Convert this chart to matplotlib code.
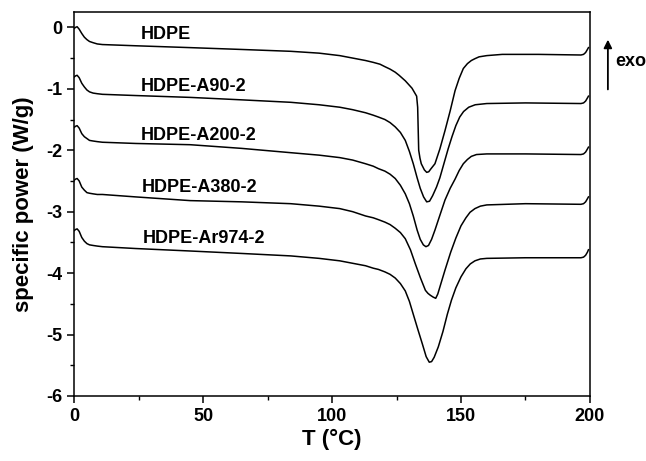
import numpy as np
import matplotlib
matplotlib.use("Agg")
import matplotlib.pyplot as plt
from matplotlib.ticker import MultipleLocator

plt.rcParams['font.family'] = ['Liberation Sans', 'DejaVu Sans']
plt.rcParams['font.weight'] = 'bold'
plt.rcParams['axes.unicode_minus'] = False

# DSC traces: temperature (degC) and specific power (W/g)
t_hdpe = [0, 0.6, 1.2, 2, 3, 4, 5, 6, 7.4, 9, 11, 24, 45, 65, 84, 95, 103, 108, 113, 116,
          118.6, 120.5, 122.5, 124.5, 126, 128.4, 131, 132.8, 133.2, 133.6, 134.1, 134.6,
          135.8, 136.7, 137.5, 138.2, 139.9, 141.8, 143.8, 145.8, 147.7, 149.3, 150.9,
          152.5, 154, 155.4, 157, 160, 166, 180, 196.5, 197.5, 198.3, 199, 199.4]
p_hdpe = [-0.02, 0.0, 0.01, -0.03, -0.1, -0.16, -0.2, -0.23, -0.25, -0.27, -0.28, -0.3,
          -0.33, -0.36, -0.39, -0.42, -0.46, -0.5, -0.54, -0.57, -0.6, -0.64, -0.68, -0.73,
          -0.78, -0.87, -0.99, -1.12, -1.3, -2.0, -2.13, -2.22, -2.32, -2.36, -2.35, -2.31,
          -2.22, -1.98, -1.68, -1.36, -1.03, -0.83, -0.67, -0.59, -0.54, -0.51, -0.48,
          -0.46, -0.44, -0.44, -0.45, -0.44, -0.41, -0.36, -0.33]

t_a90 = [0, 0.6, 1.2, 2, 3, 4, 5, 6, 7.4, 9, 11, 24, 45, 65, 84, 95, 103, 108, 113, 116,
         118, 120.5, 122.5, 124.5, 126.5, 128.4, 130, 131.5, 133, 134.2, 135.5, 136.7,
         137.8, 139, 140.5, 141.8, 143.5, 145, 146.5, 148, 149.5, 151, 153, 155.5, 160,
         175, 196.5, 197.5, 198.3, 199, 199.4]
p_a90 = [-0.81, -0.79, -0.78, -0.82, -0.91, -0.97, -1.02, -1.05, -1.07, -1.08, -1.09,
         -1.11, -1.14, -1.18, -1.22, -1.26, -1.30, -1.34, -1.39, -1.43, -1.46, -1.5, -1.55,
         -1.62, -1.71, -1.84, -2.02, -2.22, -2.45, -2.62, -2.76, -2.84, -2.83, -2.74, -2.6,
         -2.45, -2.2, -1.98, -1.78, -1.6, -1.46, -1.37, -1.3, -1.26, -1.24, -1.23, -1.24,
         -1.23, -1.2, -1.15, -1.12]

t_a200 = [0, 0.6, 1.2, 2, 3, 4, 5, 6, 7.4, 9, 11, 24, 45, 65, 84, 95, 103, 108, 113, 116,
          118, 120.5, 122.5, 124.5, 126.5, 128.4, 130, 131.5, 133, 134.2, 135.4, 136.4,
          137.4, 138.6, 139.9, 141.8, 143.8, 145.8, 147.7, 149.3, 150.9, 152.5, 154, 156,
          160, 175, 196.5, 197.5, 198.3, 199, 199.4]
p_a200 = [-1.63, -1.61, -1.6, -1.64, -1.73, -1.78, -1.81, -1.84, -1.85, -1.86, -1.87,
          -1.89, -1.91, -1.97, -2.04, -2.08, -2.12, -2.16, -2.22, -2.26, -2.3, -2.34, -2.39,
          -2.46, -2.57, -2.71, -2.87, -3.07, -3.3, -3.45, -3.54, -3.57, -3.55, -3.45, -3.3,
          -3.06, -2.81, -2.62, -2.47, -2.33, -2.22, -2.15, -2.1, -2.07, -2.06, -2.06, -2.07,
          -2.06, -2.03, -1.98, -1.95]

t_a380 = [0, 0.6, 1.2, 2, 3, 4, 5, 6, 7.4, 9, 11, 24, 45, 65, 84, 95, 103, 108, 113, 116,
          118, 120.5, 122.5, 124.5, 126.5, 128.4, 130.4, 132.3, 134.3, 136.2, 137.2, 138.1,
          139.2, 140.2, 141, 142, 143.8, 146, 148, 150, 151.9, 153.5, 155.4, 157.5, 160,
          175, 196.5, 197.5, 198.3, 199, 199.4]
p_a380 = [-2.49, -2.47, -2.46, -2.5, -2.6, -2.65, -2.69, -2.7, -2.71, -2.72, -2.72, -2.76,
          -2.82, -2.84, -2.87, -2.91, -2.95, -3.0, -3.07, -3.1, -3.13, -3.17, -3.21, -3.27,
          -3.34, -3.44, -3.62, -3.85, -4.08, -4.28, -4.33, -4.36, -4.39, -4.41, -4.34, -4.2,
          -3.95, -3.66, -3.43, -3.23, -3.1, -3.01, -2.95, -2.91, -2.89, -2.87, -2.88, -2.87,
          -2.84, -2.79, -2.76]

t_ar974 = [0, 0.6, 1.2, 2, 3, 4, 5, 6, 7.4, 9, 11, 24, 45, 65, 84, 95, 103, 108, 113, 116,
           118, 120.5, 122.5, 124.5, 126.5, 128.4, 130, 131.5, 133.3, 135, 136.5, 137.7,
           138.6, 139.6, 141.2, 143, 144.7, 146.3, 148, 150, 151.9, 153.6, 155.4, 157.5, 160,
           175, 196.5, 197.5, 198.3, 199, 199.4]
p_ar974 = [-3.31, -3.29, -3.28, -3.32, -3.42, -3.48, -3.52, -3.54, -3.55, -3.56, -3.57,
           -3.6, -3.64, -3.68, -3.72, -3.76, -3.8, -3.84, -3.88, -3.92, -3.94, -3.98, -4.02,
           -4.08, -4.17, -4.29, -4.46, -4.67, -4.92, -5.15, -5.36, -5.45, -5.44, -5.37, -5.2,
           -4.95, -4.67, -4.44, -4.24, -4.06, -3.93, -3.85, -3.8, -3.77, -3.76, -3.75, -3.75,
           -3.74, -3.71, -3.66, -3.62]

names = ["HDPE", "HDPE-A90-2", "HDPE-A200-2", "HDPE-A380-2", "HDPE-Ar974-2"]
label_t = [25.8, 25.8, 25.8, 26.2, 26.6]
label_p = [-0.11, -0.96, -1.76, -2.61, -3.43]

fig = plt.figure(figsize=(6.46, 4.61), dpi=100)
ax = fig.add_axes([0.1146, 0.141, 0.7987, 0.833])

for t, p in [(t_hdpe, p_hdpe), (t_a90, p_a90), (t_a200, p_a200),
             (t_a380, p_a380), (t_ar974, p_ar974)]:
    ax.plot(t, p, color='black', lw=1.1)

for name, x, y in zip(names, label_t, label_p):
    ax.text(x, y, name, fontsize=13, fontweight='bold', ha='left', va='center')

ax.set_xlim(0, 200)
ax.set_ylim(-6, 0.25)
ax.xaxis.set_major_locator(MultipleLocator(50))
ax.xaxis.set_minor_locator(MultipleLocator(25))
ax.yaxis.set_major_locator(MultipleLocator(1))
ax.yaxis.set_minor_locator(MultipleLocator(0.5))
ax.tick_params(which='major', direction='out', length=5, width=1.1, labelsize=13)
ax.tick_params(which='minor', direction='out', length=3, width=1.0)
for s in ax.spines.values():
    s.set_linewidth(1.1)
ax.set_xlabel("T (°C)", fontsize=16, fontweight='bold', labelpad=3)
ax.set_ylabel("specific power (W/g)", fontsize=16, fontweight='bold', labelpad=9)

# exo arrow outside the frame
fig.patches.append(matplotlib.patches.FancyArrowPatch(
    (0.941, 0.80), (0.941, 0.92), transform=fig.transFigure,
    arrowstyle='-|>', mutation_scale=12, color='black', lw=1.3))
fig.text(0.952, 0.866, "exo", fontsize=13, fontweight='bold', ha='left', va='center')

fig.savefig("out.png", dpi=100)
